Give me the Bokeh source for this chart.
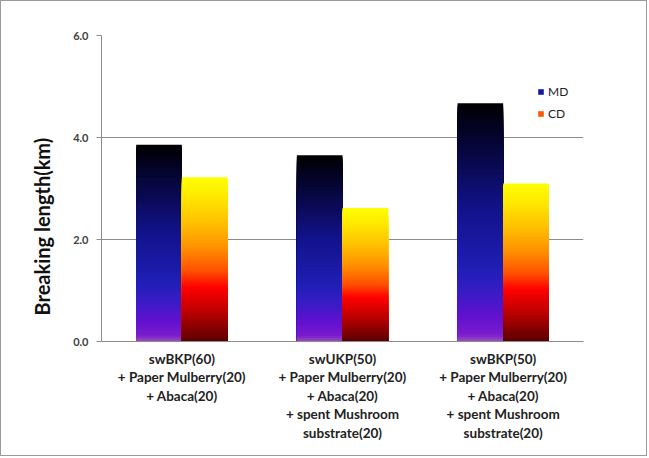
import numpy as np
from bokeh.plotting import figure
from bokeh.models import (Range1d, FixedTicker, Title, Legend, LegendItem,
                          ColumnDataSource, NumeralTickFormatter)
from bokeh.embed import file_html
from bokeh.resources import INLINE

# ---------------- data ----------------
categories = [
    "swBKP(60)\n+ Paper Mulberry(20)\n+ Abaca(20)",
    "swUKP(50)\n+ Paper Mulberry(20)\n+ Abaca(20)\n+ spent Mushroom\nsubstrate(20)",
    "swBKP(50)\n+ Paper Mulberry(20)\n+ Abaca(20)\n+ spent Mushroom\nsubstrate(20)",
]
md = [3.86, 3.65, 4.67]
cd = [3.22, 2.62, 3.10]
series = ["MD", "CD"]
y_ticks = [0, 2, 4, 6]
y_title = "Breaking length(km)"

# ---------------- styles ----------------
FONT = "Lato"
BAR_W = 0.284
N_SLICES = 100
Y_MAX = 6
MD_STOPS = [(0.00, "#000000"), (0.08, "#02021a"), (0.18, "#06063a"),
            (0.44, "#12128a"), (0.69, "#1e1eb4"), (0.80, "#3a1cc6"),
            (0.89, "#6010d0"), (0.97, "#7a1ccc"), (1.00, "#9a50c0")]
CD_STOPS = [(0.00, "#ffff00"), (0.12, "#ffe800"), (0.28, "#ffc000"),
            (0.43, "#ff9000"), (0.57, "#ff5000"), (0.67, "#ff0000"),
            (0.81, "#c00000"), (0.93, "#800000"), (1.00, "#5a0000")]


def hex2rgb(h):
    h = h.lstrip("#")
    return np.array([int(h[i:i + 2], 16) for i in (0, 2, 4)], dtype=float)


def interp_color(stops, t):
    for (t0, c0), (t1, c1) in zip(stops[:-1], stops[1:]):
        if t0 <= t <= t1:
            f = (t - t0) / (t1 - t0) if t1 > t0 else 0
            c = hex2rgb(c0) * (1 - f) + hex2rgb(c1) * f
            return "#%02x%02x%02x" % tuple(int(round(v)) for v in c)
    return stops[-1][1]


def gradient_source(values, offset_left, stops):
    # each slice spans from 0 up to its own top; tallest drawn first so the
    # shorter ones cover it -> seamless vertical gradient
    d = dict(left=[], right=[], bottom=[], top=[], color=[])
    for i, v in enumerate(values):
        left = i + 0.5 + offset_left
        for k in range(N_SLICES - 1, -1, -1):
            frac_from_top = 1 - (k + 0.5) / N_SLICES
            d["left"].append(left)
            d["right"].append(left + BAR_W)
            d["bottom"].append(0)
            d["top"].append(v * (k + 1) / N_SLICES)
            d["color"].append(interp_color(stops, frac_from_top))
    return ColumnDataSource(d)


p = figure(width=647, height=456, output_backend="svg", toolbar_location=None,
           x_range=Range1d(0, len(categories)), y_range=Range1d(0, Y_MAX),
           min_border_left=100, min_border_right=65, min_border_top=34,
           min_border_bottom=116)
p.styles = {"border": "1px solid #9a9a9a"}
p.outline_line_color = None
p.background_fill_color = "white"
p.border_fill_color = "white"

md_src = gradient_source(md, -BAR_W, MD_STOPS)
cd_src = gradient_source(cd, 0.0, CD_STOPS)
r_md = p.quad(left="left", right="right", bottom="bottom", top="top",
              fill_color="color", line_color=None, source=md_src)
r_cd = p.quad(left="left", right="right", bottom="bottom", top="top",
              fill_color="color", line_color=None, source=cd_src)

# grid
p.xgrid.visible = False
p.ygrid.ticker = FixedTicker(ticks=y_ticks)
p.ygrid.grid_line_color = "#8c8c8c"
p.ygrid.grid_line_width = 1

# y axis
ya = p.yaxis[0]
ya.ticker = FixedTicker(ticks=y_ticks)
ya.formatter = NumeralTickFormatter(format="0.0")
ya.axis_line_color = "#8c8c8c"
ya.major_tick_line_color = "#8c8c8c"
ya.major_tick_out = 5
ya.major_tick_in = 0
ya.minor_tick_line_color = None
ya.major_label_standoff = 8
ya.major_label_text_font = FONT
ya.major_label_text_font_style = "bold"
ya.major_label_text_font_size = "11px"
ya.major_label_text_color = "#404040"

# x axis
xa = p.xaxis[0]
xa.ticker = FixedTicker(ticks=[i + 0.5 for i in range(len(categories))])
xa.major_label_overrides = {i + 0.5: c for i, c in enumerate(categories)}
xa.axis_line_color = "#8c8c8c"
xa.major_tick_line_color = None
xa.minor_tick_line_color = None
xa.major_label_standoff = 3
xa.major_label_text_font = FONT
xa.major_label_text_font_style = "bold"
xa.major_label_text_font_size = "13.5px"
xa.major_label_text_color = "#222222"
xa.major_label_text_line_height = 1.16

# y title as a left-side title, shifted along the axis
p.add_layout(Title(text=y_title, align="left", offset=26,
                   vertical_align="bottom", standoff=34,
                   text_font=FONT, text_font_style="bold",
                   text_font_size="20px", text_color="#111111"), "left")

# legend
legend = Legend(items=[
    LegendItem(label=series[0], renderers=[r_md], index=int(N_SLICES * 0.55)),
    LegendItem(label=series[1], renderers=[r_cd], index=int(N_SLICES * 0.55)),
], location=(436, 220))
legend.glyph_width = 7
legend.glyph_height = 7
legend.label_height = 12
legend.label_standoff = 4
legend.spacing = 7
legend.padding = 0
legend.margin = 0
legend.border_line_color = None
legend.background_fill_alpha = 0
legend.label_text_font = FONT
legend.label_text_font_size = "12px"
legend.label_text_color = "#222222"
p.add_layout(legend)

open("out.html", "w").write(file_html(p, INLINE))
